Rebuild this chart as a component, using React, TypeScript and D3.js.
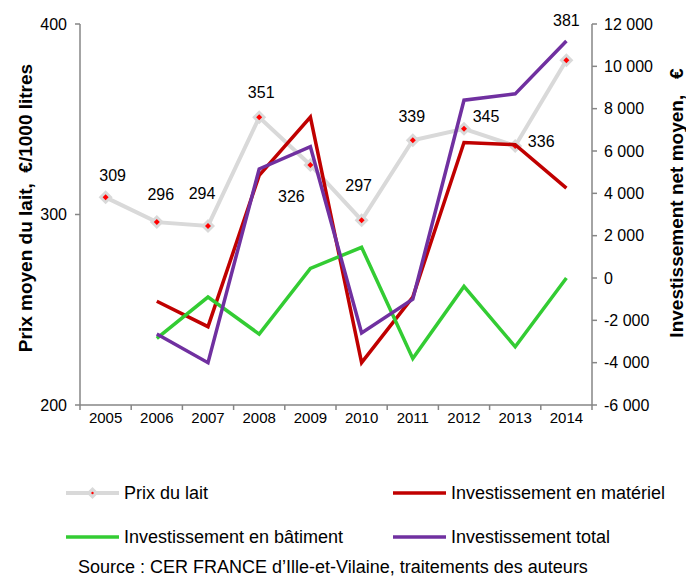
import * as d3 from 'd3'

const years = ['2005', '2006', '2007', '2008', '2009', '2010', '2011', '2012', '2013', '2014']
const prixLait = [309, 296, 294, 351, 326, 297, 339, 345, 336, 381]
const investMateriel = [null, -1100, -2300, 4850, 7600, -4000, -900, 6400, 6300, 4250]
const investBatiment = [null, -2850, -900, -2650, 450, 1450, -3800, -400, -3250, 0]
const investTotal = [null, -2650, -4000, 5150, 6200, -2600, -1000, 8400, 8700, 11200]
const leftTicks = [200, 300, 400]
const rightTicks = [-6000, -4000, -2000, 0, 2000, 4000, 6000, 8000, 10000, 12000]

// label nudges for the milk price values (dx, dy from the marker)
const labelNudge: [number, number][] = [
  [7, -22], [4, -28], [-6, -33], [2, -25], [-19, 31], [-3, -35], [-1, -24], [22, -12], [26, -5], [0, -40],
]

const font = 'Liberation Sans, Arial, sans-serif'
const fr = d3.formatLocale({ decimal: ',', thousands: ' ', grouping: [3], currency: ['', ' €'], minus: '-' })
const fmt = fr.format(',d')

export default function App() {
  const width = 686
  const height = 577
  const m = { left: 80, right: 592, top: 24, bottom: 405 }

  const x = d3.scaleBand<string>().domain(years).range([m.left, m.right]).padding(0)
  const cx = (i: number) => (x(years[i]) ?? 0) + x.bandwidth() / 2
  const yL = d3.scaleLinear().domain([200, 400]).range([m.bottom, m.top])
  const yR = d3.scaleLinear().domain([-6000, 12000]).range([m.bottom, m.top])

  const lineR = d3
    .line<number | null>()
    .defined((d) => d != null)
    .x((_, i) => cx(i))
    .y((d) => yR(d as number))
  const lineL = d3
    .line<number>()
    .x((_, i) => cx(i))
    .y((d) => yL(d))

  const axisColor = '#868686'
  const series = [
    { data: investMateriel, color: '#c00000' },
    { data: investBatiment, color: '#33cc33' },
    { data: investTotal, color: '#7030a0' },
  ]

  const diamond = (px: number, py: number, r: number) =>
    `M${px},${py - r}L${px + r},${py}L${px},${py + r}L${px - r},${py}Z`

  const legend = [
    { label: 'Prix du lait', color: '#d9d9d9', marker: true, x: 66, y: 493 },
    { label: 'Investissement en matériel', color: '#c00000', marker: false, x: 393, y: 493 },
    { label: 'Investissement en bâtiment', color: '#33cc33', marker: false, x: 66, y: 537 },
    { label: 'Investissement total', color: '#7030a0', marker: false, x: 393, y: 537 },
  ]

  return (
    <svg width={width} height={height} style={{ position: 'absolute', left: 0, top: 0 }} fontFamily={font}>
      <rect width={width} height={height} fill="#fff" />

      {/* axes */}
      <line x1={m.left} x2={m.left} y1={m.top} y2={m.bottom} stroke={axisColor} strokeWidth={1.5} />
      <line x1={m.right} x2={m.right} y1={m.top} y2={m.bottom} stroke={axisColor} strokeWidth={1.5} />
      <line x1={m.left} x2={m.right} y1={m.bottom} y2={m.bottom} stroke={axisColor} strokeWidth={1.5} />

      {leftTicks.map((t) => (
        <g key={'l' + t}>
          <line x1={m.left - 5} x2={m.left} y1={yL(t)} y2={yL(t)} stroke={axisColor} strokeWidth={1.5} />
          <text x={m.left - 13} y={yL(t)} dy="0.35em" textAnchor="end" fontSize={16} fill="#000">
            {t}
          </text>
        </g>
      ))}
      {rightTicks.map((t) => (
        <g key={'r' + t}>
          <line x1={m.right} x2={m.right + 5} y1={yR(t)} y2={yR(t)} stroke={axisColor} strokeWidth={1.5} />
          <text x={m.right + 12} y={yR(t)} dy="0.35em" textAnchor="start" fontSize={16} fill="#000">
            {fmt(t)}
          </text>
        </g>
      ))}
      {years.map((yr, i) => (
        <g key={yr}>
          <line x1={x(yr)} x2={x(yr)} y1={m.bottom} y2={m.bottom + 5} stroke={axisColor} strokeWidth={1.5} />
          {i === years.length - 1 && (
            <line x1={m.right} x2={m.right} y1={m.bottom} y2={m.bottom + 5} stroke={axisColor} strokeWidth={1.5} />
          )}
          <text x={cx(i)} y={m.bottom + 13} dy="0.35em" textAnchor="middle" fontSize={15} fill="#000">
            {yr}
          </text>
        </g>
      ))}

      <text
        transform={`translate(25,208) rotate(-90)`}
        textAnchor="middle"
        dy="0.35em"
        fontSize={19}
        fontWeight="bold"
        style={{ whiteSpace: 'pre' }}
      >
        {'Prix moyen du lait,  €/1000 litres'}
      </text>
      <text
        transform={`translate(676,203) rotate(-90)`}
        textAnchor="middle"
        dy="0.35em"
        fontSize={19}
        fontWeight="bold"
        style={{ whiteSpace: 'pre' }}
      >
        {'Investissement net moyen,   €'}
      </text>

      {/* milk price */}
      <path d={lineL(prixLait) ?? ''} fill="none" stroke="#d9d9d9" strokeWidth={4} />
      {prixLait.map((v, i) => (
        <g key={'p' + i}>
          <path d={diamond(cx(i), yL(v), 7)} fill="#d9d9d9" />
          <path d={diamond(cx(i), yL(v), 3)} fill="#ff0000" />
        </g>
      ))}

      {series.map((s, k) => (
        <path key={k} d={lineR(s.data) ?? ''} fill="none" stroke={s.color} strokeWidth={3.5} strokeLinejoin="miter" />
      ))}

      {prixLait.map((v, i) => (
        <text
          key={'lab' + i}
          x={cx(i) + labelNudge[i][0]}
          y={yL(v) + labelNudge[i][1]}
          dy="0.35em"
          textAnchor="middle"
          fontSize={16}
          fill="#000"
        >
          {v}
        </text>
      ))}

      {/* legend */}
      {legend.map((l) => (
        <g key={l.label}>
          <line x1={l.x} x2={l.x + 53} y1={l.y} y2={l.y} stroke={l.color} strokeWidth={l.marker ? 4 : 3.5} />
          {l.marker && (
            <>
              <path d={diamond(l.x + 26.5, l.y, 6)} fill="#d9d9d9" />
              <circle cx={l.x + 26.5} cy={l.y} r={1.2} fill="#ff0000" />
            </>
          )}
          <text x={l.x + 58} y={l.y} dy="0.35em" fontSize={18} fill="#000">
            {l.label}
          </text>
        </g>
      ))}
      <text x={78} y={567} dy="0.35em" fontSize={18} fill="#000">
        Source : CER FRANCE d’Ille-et-Vilaine, traitements des auteurs
      </text>
    </svg>
  )
}
